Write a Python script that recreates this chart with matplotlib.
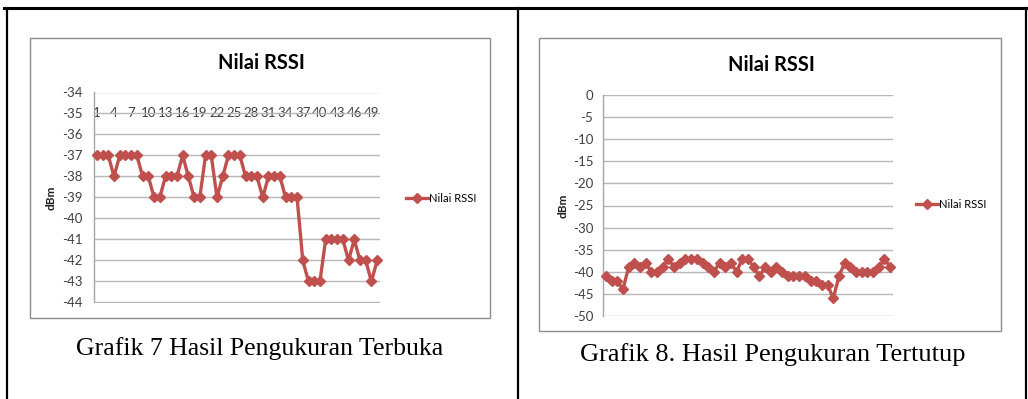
import matplotlib
matplotlib.use("Agg")
import matplotlib.pyplot as plt
from matplotlib.lines import Line2D
from matplotlib.patches import Rectangle

# RSSI readings (dBm)
open_rssi = [-37, -37, -37, -38, -37, -37, -37, -37, -38, -38,
             -39, -39, -38, -38, -38, -37, -38, -39, -39, -37,
             -37, -39, -38, -37, -37, -37, -38, -38, -38, -39,
             -38, -38, -38, -39, -39, -39, -42, -43, -43, -43,
             -41, -41, -41, -41, -42, -41, -42, -42, -43, -42]
closed_rssi = [-41, -42, -42, -44, -39, -38, -39, -38, -40, -40,
               -39, -37, -39, -38, -37, -37, -37, -38, -39, -40,
               -38, -39, -38, -40, -37, -37, -39, -41, -39, -40,
               -39, -40, -41, -41, -41, -41, -42, -42, -43, -43,
               -46, -41, -38, -39, -40, -40, -40, -40, -39, -37,
               -39]
open_ticks = list(range(1, 50, 3))
open_yticks = list(range(-44, -33, 1))
closed_yticks = list(range(-50, 1, 5))
series_name = "Nilai RSSI"
chart_title = "Nilai RSSI"
y_label = "dBm"
captions = ["Grafik 7 Hasil Pengukuran Terbuka",
            "Grafik 8. Hasil Pengukuran Tertutup"]

W, H = 1028, 399
LINE_RED = "#C0504D"
GRID = "#B7B7B7"
UI_FONT = ["Lato", "DejaVu Sans"]
SERIF = ["Liberation Serif", "DejaVu Serif"]

fig = plt.figure(figsize=(W / 100, H / 100), dpi=100)
fig.patch.set_facecolor("white")


def box(x0, y0, x1, y1):
    return [x0 / W, 1 - y1 / H, (x1 - x0) / W, (y1 - y0) / H]


def fx(x):
    return x / W


def fy(y):
    return 1 - y / H


# table borders
for (xa, ya, xb, yb, lw) in [(4, 8, 1028, 8, 2.2), (7, 8, 7, 399, 1.6),
                              (518, 8, 518, 399, 1.6), (1026, 8, 1026, 399, 1.6)]:
    fig.add_artist(Line2D([fx(xa), fx(xb)], [fy(ya), fy(yb)], color="black",
                          lw=lw, transform=fig.transFigure))

# chart frames
for (x0, y0, x1, y1) in [(30, 38, 490, 318), (539, 38, 1001, 331)]:
    fig.add_artist(Rectangle((fx(x0), fy(y1)), (x1 - x0) / W, (y1 - y0) / H,
                             transform=fig.transFigure, facecolor="white",
                             edgecolor="#8C8C8C", lw=1.0, zorder=0))


def style_axes(ax, yticks, ypad):
    ax.set_facecolor("none")
    for side in ("right", "bottom", "top"):
        ax.spines[side].set_visible(False)
    ax.spines["left"].set_color("#A6A6A6")
    ax.spines["left"].set_linewidth(1.0)
    ax.set_yticks(yticks)
    ax.set_yticklabels([str(v) for v in yticks], fontfamily=UI_FONT,
                       fontsize=9.5, color="#404040")
    ax.tick_params(axis="y", length=0, pad=ypad)
    ax.yaxis.grid(True, color=GRID, lw=1.0)
    ax.set_axisbelow(True)
    ax.set_ylabel(y_label, fontfamily=UI_FONT, fontsize=8.5, fontweight="bold",
                  color="#202020")


def draw_series(ax, values):
    xs = list(range(1, len(values) + 1))
    ax.plot(xs, values, color=LINE_RED, lw=2.4, marker="D", markersize=5.5,
            markerfacecolor=LINE_RED, markeredgecolor=LINE_RED,
            label=series_name, clip_on=False, zorder=3)
    ax.set_xlim(0.5, len(values) + 0.5)


# left chart
ax1 = fig.add_axes(box(94, 92.5, 380, 302.5))
draw_series(ax1, open_rssi)
ax1.set_ylim(-44, -34)
style_axes(ax1, open_yticks, 8)
ax1.set_xticks(open_ticks)
ax1.set_xticklabels([str(t) for t in open_ticks], fontfamily=UI_FONT,
                    fontsize=9.5, color="#404040")
ax1.tick_params(axis="x", length=0, top=False, bottom=False, labeltop=True,
                labelbottom=False, pad=-19)
ax1.yaxis.set_label_coords(-0.13, 0.5)
fig.text(fx(261), fy(63), chart_title, ha="center", va="center",
         fontfamily=UI_FONT, fontsize=14.5, fontweight="bold")
ax1.legend(loc="center left", bbox_to_anchor=(fx(400), fy(198)),
           bbox_transform=fig.transFigure, frameon=False, handlelength=2.0,
           handletextpad=0.1, borderpad=0,
           prop={"family": UI_FONT, "size": 8})

# right chart
ax2 = fig.add_axes(box(603, 95, 893, 316))
draw_series(ax2, closed_rssi)
ax2.set_ylim(-50, 0)
style_axes(ax2, closed_yticks, 7)
ax2.set_xticks([])
ax2.yaxis.set_label_coords(-0.12, 0.5)
fig.text(fx(771), fy(65), chart_title, ha="center", va="center",
         fontfamily=UI_FONT, fontsize=14.5, fontweight="bold")
ax2.legend(loc="center left", bbox_to_anchor=(fx(910), fy(204)),
           bbox_transform=fig.transFigure, frameon=False, handlelength=2.0,
           handletextpad=0.1, borderpad=0,
           prop={"family": UI_FONT, "size": 8})

# captions
fig.text(fx(260), fy(349), captions[0], ha="center", va="center",
         fontfamily=SERIF, fontsize=18.5)
fig.text(fx(773), fy(355), captions[1], ha="center", va="center",
         fontfamily=SERIF, fontsize=19)

fig.savefig("out.png", dpi=100, facecolor="white")
